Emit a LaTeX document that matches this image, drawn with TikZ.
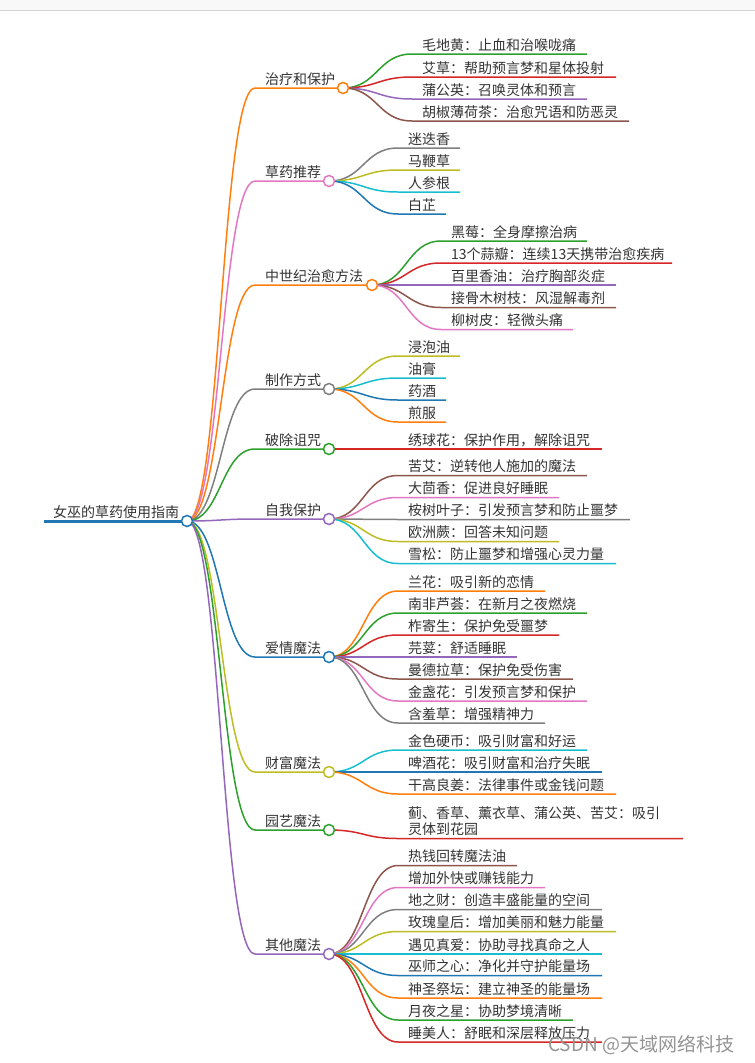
\documentclass[tikz,border=0pt]{standalone}
\usepackage{fontspec}
\setmainfont{Noto Sans CJK SC}
\usetikzlibrary{calc}
\definecolor{mmOrange}{HTML}{FF7F0E}
\definecolor{mmPink}{HTML}{E377C2}
\definecolor{mmGray}{HTML}{7F7F7F}
\definecolor{mmGreen}{HTML}{2CA02C}
\definecolor{mmPurple}{HTML}{9467BD}
\definecolor{mmBlue}{HTML}{1F77B4}
\definecolor{mmOlive}{HTML}{BCBD22}
\definecolor{mmCyan}{HTML}{17BECF}
\definecolor{mmRed}{HTML}{D62728}
\definecolor{mmBrown}{HTML}{8C564B}
\definecolor{mmText}{HTML}{333333}
\definecolor{mmBand}{HTML}{F8F8F8}
\definecolor{mmBandLine}{HTML}{D4D4D4}
\tikzset{
  mmlabel/.style={anchor=base west, inner sep=0pt, text=mmText, font=\fontsize{14}{16}\selectfont},
  mmlink/.style={line width=1.5pt},
  mmdot/.style={circle, draw, line width=1.5pt, fill=white, minimum size=11pt, inner sep=0pt},
  mmwater/.style={anchor=base west, inner sep=0pt, text=black!42, font=\fontsize{19}{21}\selectfont},
}
\newcommand\mmbranch[5]{% name, y, circle x, color, label
  \coordinate (#1-s) at (255,#2);
  \coordinate (#1-p) at (#3,#2);
  \node[mmlabel] (#1) at (265,#2-4) {#5};
  \draw[mmlink,#4] (root-p) .. controls ($(root-p)+(34,0)$) and ($(#1-s)+(-34,0)$) .. (#1-s) -- (#1-p);
}
\newcommand\mmleaf[7]{% parent, parent x, name, y, end x, color, text
  \coordinate (#3-s) at (#2+69,#4);
  \coordinate (#3-e) at (#5,#4);
  \node[mmlabel] (#3) at (#2+79,#4-4) {#7};
  \draw[mmlink,#6] (#1-p) .. controls ($(#1-p)+(34.5,0)$) and ($(#3-s)+(-34.5,0)$) .. (#3-s) -- (#3-e);
}
\begin{document}
\begin{tikzpicture}[x=1pt,y=-1pt]
\useasboundingbox (0,0) rectangle (755,1063);
\fill[mmBand] (0,0) rectangle (755,10);
\draw[mmBandLine, line width=1pt] (0,10) -- (755,10);
% root
\coordinate (root-p) at (187,521);
\coordinate (root-l) at (44,521);
\node[mmlabel] (root) at (53,517) {女巫的草药使用指南};
% branches
\mmbranch{b1}{88}{343}{mmOrange}{治疗和保护}
\mmbranch{b2}{181}{329}{mmPink}{草药推荐}
\mmbranch{b3}{285}{372}{mmOrange}{中世纪治愈方法}
\mmbranch{b4}{389}{329}{mmGray}{制作方式}
\mmbranch{b5}{449}{329}{mmGreen}{破除诅咒}
\mmbranch{b6}{519}{329}{mmPurple}{自我保护}
\mmbranch{b7}{657}{329}{mmBlue}{爱情魔法}
\mmbranch{b8}{772}{329}{mmOlive}{财富魔法}
\mmbranch{b9}{830}{329}{mmGreen}{园艺魔法}
\mmbranch{b10}{954}{329}{mmPurple}{其他魔法}
\draw[mmBlue, line width=3pt] (root-l) -- (root-p);
% leaves b1
\mmleaf{b1}{343}{l11}{54}{587}{mmGreen}{毛地黄：止血和治喉咙痛}
\mmleaf{b1}{343}{l12}{77}{616}{mmRed}{艾草：帮助预言梦和星体投射}
\mmleaf{b1}{343}{l13}{99}{587}{mmPurple}{蒲公英：召唤灵体和预言}
\mmleaf{b1}{343}{l14}{121}{629}{mmBrown}{胡椒薄荷茶：治愈咒语和防恶灵}
% b2
\mmleaf{b2}{329}{l21}{148}{460}{mmGray}{迷迭香}
\mmleaf{b2}{329}{l22}{170}{460}{mmOlive}{马鞭草}
\mmleaf{b2}{329}{l23}{192}{460}{mmCyan}{人参根}
\mmleaf{b2}{329}{l24}{214}{446}{mmBlue}{白芷}
% b3
\mmleaf{b3}{372}{l31}{241}{587}{mmGreen}{黑莓：全身摩擦治病}
\mmleaf{b3}{372}{l32}{263}{672}{mmRed}{13个蒜瓣：连续13天携带治愈疾病}
\mmleaf{b3}{372}{l33}{285}{616}{mmPurple}{百里香油：治疗胸部炎症}
\mmleaf{b3}{372}{l34}{307.5}{616}{mmBrown}{接骨木树枝：风湿解毒剂}
\mmleaf{b3}{372}{l35}{329.5}{573}{mmPink}{柳树皮：轻微头痛}
% b4
\mmleaf{b4}{329}{l41}{356}{460}{mmOlive}{浸泡油}
\mmleaf{b4}{329}{l42}{378}{446}{mmCyan}{油膏}
\mmleaf{b4}{329}{l43}{400}{446}{mmBlue}{药酒}
\mmleaf{b4}{329}{l44}{422}{446}{mmOrange}{煎服}
% b5
\mmleaf{b5}{329}{l51}{449}{602}{mmRed}{绣球花：保护作用，解除诅咒}
% b6
\mmleaf{b6}{329}{l61}{475.5}{587}{mmBrown}{苦艾：逆转他人施加的魔法}
\mmleaf{b6}{329}{l62}{497.5}{559}{mmPink}{大茴香：促进良好睡眠}
\mmleaf{b6}{329}{l63}{519.5}{630}{mmGray}{桉树叶子：引发预言梦和防止噩梦}
\mmleaf{b6}{329}{l64}{541.5}{559}{mmOlive}{欧洲蕨：回答未知问题}
\mmleaf{b6}{329}{l65}{563.5}{616}{mmCyan}{雪松：防止噩梦和增强心灵力量}
% b7
\mmleaf{b7}{329}{l71}{591}{545}{mmOrange}{兰花：吸引新的恋情}
\mmleaf{b7}{329}{l72}{613}{587}{mmGreen}{南非芦荟：在新月之夜燃烧}
\mmleaf{b7}{329}{l73}{635}{559}{mmRed}{柞寄生：保护免受噩梦}
\mmleaf{b7}{329}{l74}{657}{517}{mmPurple}{芫荽：舒适睡眠}
\mmleaf{b7}{329}{l75}{679}{573}{mmBrown}{曼德拉草：保护免受伤害}
\mmleaf{b7}{329}{l76}{701}{587}{mmPink}{金盏花：引发预言梦和保护}
\mmleaf{b7}{329}{l77}{723}{545}{mmGray}{含羞草：增强精神力}
% b8
\mmleaf{b8}{329}{l81}{750}{587}{mmCyan}{金色硬币：吸引财富和好运}
\mmleaf{b8}{329}{l82}{772}{602}{mmBlue}{啤酒花：吸引财富和治疗失眠}
\mmleaf{b8}{329}{l83}{794}{616}{mmOrange}{干高良姜：法律事件或金钱问题}
% b9
\coordinate (l91-s) at (398,838.5);
\coordinate (l91-e) at (683,838.5);
\node[mmlabel, align=left] (l91) at (408,834.5) {蓟、香草、薰衣草、蒲公英、苦艾：吸引\\灵体到花园};
\draw[mmlink,mmRed] (b9-p) .. controls ($(b9-p)+(34.5,0)$) and ($(l91-s)+(-34.5,0)$) .. (l91-s) -- (l91-e);
% b10
\mmleaf{b10}{329}{l101}{865.5}{517}{mmBrown}{热钱回转魔法油}
\mmleaf{b10}{329}{l102}{887.5}{545}{mmPink}{增加外快或赚钱能力}
\mmleaf{b10}{329}{l103}{909.5}{602}{mmGray}{地之财：创造丰盛能量的空间}
\mmleaf{b10}{329}{l104}{931.5}{616}{mmOlive}{玫瑰皇后：增加美丽和魅力能量}
\mmleaf{b10}{329}{l105}{954}{602}{mmCyan}{遇见真爱：协助寻找真命之人}
\mmleaf{b10}{329}{l106}{975.5}{602}{mmBlue}{巫师之心：净化并守护能量场}
\mmleaf{b10}{329}{l107}{998}{602}{mmOrange}{神圣祭坛：建立神圣的能量场}
\mmleaf{b10}{329}{l108}{1020}{573}{mmGreen}{月夜之星：协助梦境清晰}
\mmleaf{b10}{329}{l109}{1042}{602}{mmRed}{睡美人：舒眠和深层释放压力}
% dots
\foreach \n/\c in {b1/mmOrange,b2/mmPink,b3/mmOrange,b4/mmGray,b5/mmGreen,b6/mmPurple,b7/mmBlue,b8/mmOlive,b9/mmGreen,b10/mmPurple,root/mmBlue}
  \node[mmdot, draw=\c] (\n-dot) at (\n-p) {};
% watermark
\node[mmwater] (wm) at (548,1051) {CSDN @天域网络科技};
\end{tikzpicture}
\end{document}
